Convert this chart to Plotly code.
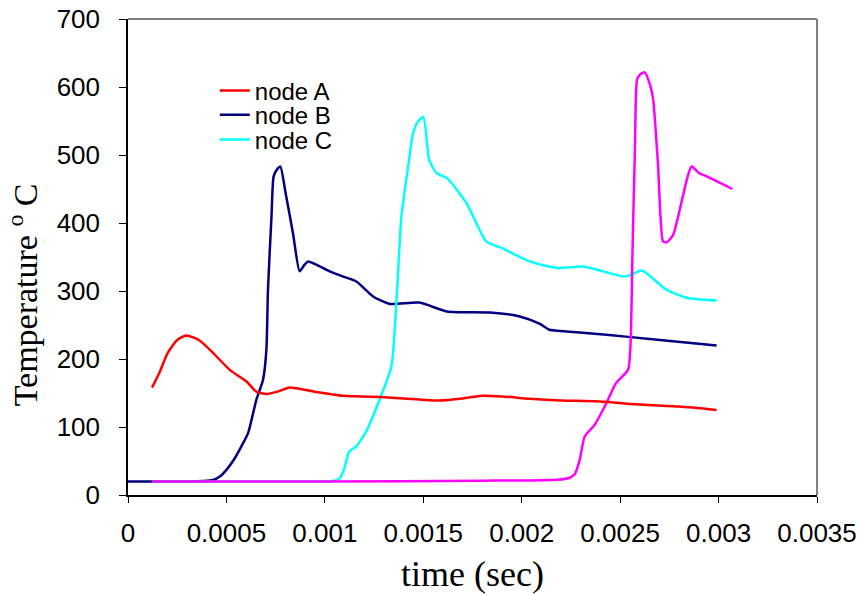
import plotly.graph_objects as go

# ---- data ----
node_a_t = [0.000122, 0.00016, 0.0002, 0.00025, 0.000297, 0.00036, 0.000432, 0.000517,
            0.000602, 0.000652, 0.000703, 0.00076, 0.000822, 0.00089, 0.000957, 0.001025,
            0.00109, 0.00118, 0.00128, 0.0014, 0.00158, 0.0017, 0.0018, 0.0019, 0.00204,
            0.0022, 0.00238, 0.00255, 0.0026, 0.0028, 0.00299]
node_a_T = [158, 180, 208, 228, 234.7, 228, 209, 184,
            167, 152, 148.5, 152, 158, 155, 151.5, 148.5,
            146, 145, 144, 142, 139, 142, 146, 145, 141.6,
            139, 137.7, 134, 133, 130, 125]

node_b_t = [0, 0.0001, 0.0002, 0.0003, 0.00038, 0.000432, 0.00047, 0.0005, 0.00054, 0.000576,
            0.00061, 0.000652, 0.000686, 0.000703, 0.000711, 0.000729, 0.00074, 0.00076,
            0.000774, 0.0008, 0.000838, 0.000872, 0.000895, 0.000915, 0.001025, 0.00109,
            0.00116, 0.001245, 0.00133, 0.00148, 0.00162, 0.00184, 0.00199, 0.00209,
            0.00214, 0.00218, 0.00243, 0.00265, 0.00299]
node_b_T = [20, 20, 20, 20, 20.5, 22, 28, 37, 53, 71.5,
            91, 140, 169.6, 213.7, 302, 410, 468.5, 480,
            483, 445, 385, 329, 338, 343.5, 329, 321.5,
            314, 292, 281, 283, 270, 268.5, 262.6, 252,
            243, 241.6, 235.7, 229.4, 220]

node_c_t = [0.000122, 0.0005, 0.001025, 0.00105, 0.001076, 0.0011, 0.00112, 0.001135, 0.00116,
            0.00121, 0.00128, 0.001338, 0.001364, 0.001389, 0.001423, 0.001448, 0.00147,
            0.0015, 0.00153, 0.001567, 0.00162, 0.00172, 0.00182, 0.0019, 0.00204, 0.00218,
            0.00231, 0.0024, 0.002515, 0.00255, 0.00261, 0.002735, 0.002837, 0.00299]
node_c_T = [20, 20, 20, 21, 25, 40, 62, 66.6, 71.5,
            93.5, 142, 189, 287, 410, 483, 532, 548,
            556, 493, 473.5, 466, 429, 373, 363, 343.5, 334,
            336, 330, 321.5, 323, 330, 302, 290, 286]

node_d_t = [0.000122, 0.001, 0.0018, 0.00218, 0.00224, 0.00227, 0.002295, 0.00232, 0.00237,
            0.00243, 0.00248, 0.00254, 0.002553, 0.002563, 0.002575, 0.002586, 0.0026,
            0.002625, 0.00265, 0.002668, 0.002685, 0.002693, 0.002705, 0.002718, 0.002736,
            0.00277, 0.002863, 0.0029, 0.00294, 0.00307]
node_d_T = [20, 20, 21, 22.5, 25, 31, 52, 86, 103,
            135, 165, 184, 223.5, 361, 508, 611, 618,
            621.5, 605, 581, 517.6, 483, 409.6, 373, 371.5,
            383, 483, 473.5, 468.5, 450]

x_tickvals = [0, 0.0005, 0.001, 0.0015, 0.002, 0.0025, 0.003, 0.0035]
x_ticktext = ["0", "0.0005", "0.001", "0.0015", "0.002", "0.0025", "0.003", "0.0035"]
y_tickvals = [0, 100, 200, 300, 400, 500, 600, 700]
y_ticktext = ["0", "100", "200", "300", "400", "500", "600", "700"]

series_names = ["node A", "node B", "node C"]
x_title = "time (sec)"
y_title = "Temperature <sup>o</sup> C"

# ---- figure ----
fig = go.Figure()
lw = 2.5
sm = 0.6
fig.add_trace(go.Scatter(x=node_b_t, y=node_b_T, mode="lines", name=series_names[1],
                         line=dict(color="#000080", width=lw, shape="spline", smoothing=sm),
                         legend="legend2"))
fig.add_trace(go.Scatter(x=node_c_t, y=node_c_T, mode="lines", name=series_names[2],
                         line=dict(color="#00FFFF", width=lw, shape="spline", smoothing=sm),
                         legend="legend3"))
fig.add_trace(go.Scatter(x=node_d_t, y=node_d_T, mode="lines", showlegend=False,
                         line=dict(color="#FF00FF", width=lw, shape="spline", smoothing=sm)))
fig.add_trace(go.Scatter(x=node_a_t, y=node_a_T, mode="lines", name=series_names[0],
                         line=dict(color="#FF0000", width=lw, shape="spline", smoothing=sm),
                         legend="legend"))

leg_font = dict(family="Liberation Sans, Arial, sans-serif", size=24, color="black")
leg_common = dict(x=0.126, xanchor="left", yanchor="middle", bgcolor="rgba(0,0,0,0)",
                  borderwidth=0, font=leg_font)
tick_font = dict(family="Liberation Sans, Arial, sans-serif", size=26, color="black")

fig.update_layout(
    width=857, height=595,
    margin=dict(l=128, r=40, t=19, b=100),
    paper_bgcolor="white", plot_bgcolor="white",
    font=dict(family="Liberation Sans, Arial, sans-serif", size=24, color="black"),
    legend=dict(y=0.849, **leg_common),
    legend2=dict(y=0.798, **leg_common),
    legend3=dict(y=0.746, **leg_common),
    xaxis=dict(
        range=[0, 0.0035], tickvals=x_tickvals, ticktext=x_ticktext, automargin=False,
        showgrid=False, zeroline=False, showline=True, linecolor="black", linewidth=1.5,
        ticks="outside", ticklen=6, tickcolor="black", tickwidth=1,
        ticklabelstandoff=8, ticklabeloverflow="allow",
        tickfont=tick_font,
        title=dict(text=x_title, standoff=14,
                   font=dict(family="Liberation Serif, Times New Roman, serif", size=36, color="black")),
    ),
    yaxis=dict(
        range=[0, 700], tickvals=y_tickvals, ticktext=y_ticktext, automargin=False,
        showgrid=False, zeroline=False, showline=True, linecolor="black", linewidth=1.5,
        ticks="outside", ticklen=7, tickcolor="black", tickwidth=1,
        ticklabelstandoff=14, ticklabeloverflow="allow",
        tickfont=tick_font,
    ),
    annotations=[
        dict(text=y_title, xref="paper", yref="paper", x=-0.152, y=0.42,
             xanchor="center", yanchor="middle", textangle=-90, showarrow=False,
             font=dict(family="Liberation Serif, Times New Roman, serif", size=34, color="black")),
    ],
    shapes=[
        dict(type="line", xref="paper", yref="paper", x0=0, x1=1, y0=1, y1=1,
             line=dict(color="#808080", width=2)),
        dict(type="line", xref="paper", yref="paper", x0=1, x1=1, y0=0, y1=1,
             line=dict(color="#808080", width=2)),
    ],
)

# remove the page's default body margin so the figure fills the window exactly
fig.write_html("out.html",
               config={"displayModeBar": False},
               post_script="document.body.style.margin='0px';document.body.style.overflow='hidden';")
